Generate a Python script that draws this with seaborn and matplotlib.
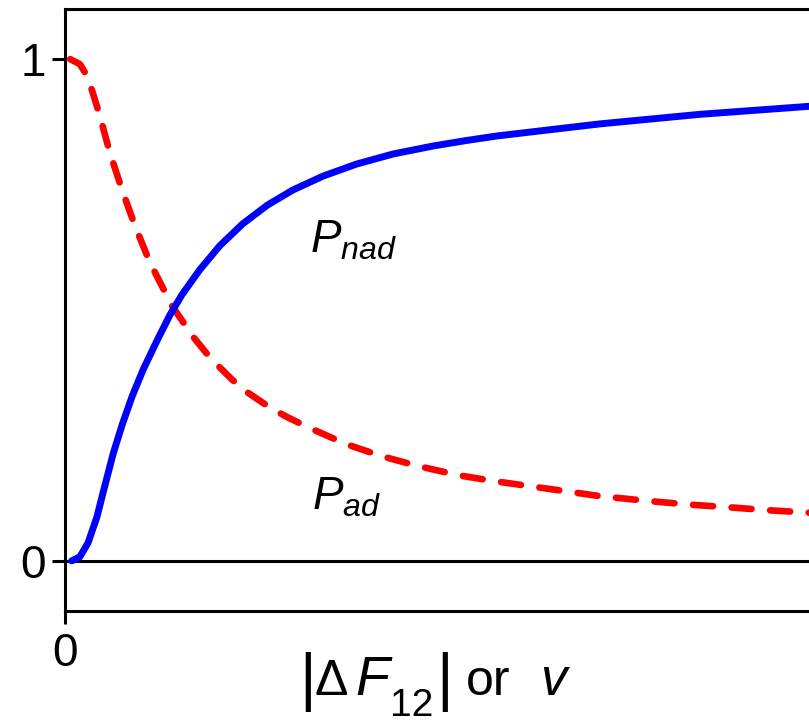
import numpy as np
import pandas as pd
import seaborn as sns
import matplotlib
matplotlib.use("Agg")
import matplotlib.pyplot as plt

# --- data (x in arbitrary units, 0..10) ---
x_ad = [0.07, 0.20, 0.30, 0.38, 0.47, 0.60, 0.77, 0.94, 1.14, 1.44, 1.72, 1.95,
        2.24, 2.45, 2.76, 2.98, 3.27, 3.79, 4.27, 4.77, 5.31, 5.81, 7.19, 7.86,
        8.40, 8.90, 9.44, 10.0]
p_ad = [1.000, 0.990, 0.966, 0.930, 0.886, 0.815, 0.738, 0.668, 0.595, 0.508,
        0.447, 0.405, 0.362, 0.336, 0.305, 0.287, 0.266, 0.232, 0.208, 0.188,
        0.170, 0.158, 0.129, 0.119, 0.112, 0.107, 0.101, 0.096]

x_nad = [0.09, 0.20, 0.31, 0.43, 0.51, 0.65, 0.77, 0.90, 1.05, 1.24, 1.41, 1.57,
         1.81, 2.08, 2.39, 2.72, 3.06, 3.47, 3.92, 4.41, 4.95, 5.40, 5.81, 7.19,
         8.53, 10.0]
p_nad = [0.000, 0.008, 0.036, 0.088, 0.135, 0.215, 0.272, 0.327, 0.381, 0.440,
         0.490, 0.530, 0.580, 0.628, 0.672, 0.709, 0.739, 0.767, 0.791, 0.811,
         0.827, 0.838, 0.847, 0.871, 0.890, 0.906]

y_ticks = [0, 1]
x_ticks = [0]

# x-axis label pieces: (text, italic?, font size)
xlabel_parts = [("|", False, 46), ("Δ", False, 36), ("F", True, 40),
                ("12", False, 28), ("|", False, 46), ("or", False, 36),
                ("v", True, 38)]
# where each piece sits, in reference pixels (left, baseline)
xlabel_pos = [(299, 699), (314, 695), (355, 695), (390, 716), (436, 699),
              (466, 695), (540, 695)]

df_ad = pd.DataFrame({"x": x_ad, "p": p_ad})
df_nad = pd.DataFrame({"x": x_nad, "p": p_nad})

# --- style ---
sns.set_style("white")
plt.rcParams["font.family"] = ["Liberation Sans", "DejaVu Sans"]
plt.rcParams["text.color"] = "black"
plt.rcParams["mathtext.fontset"] = "custom"
plt.rcParams["mathtext.rm"] = "Liberation Sans"
plt.rcParams["mathtext.it"] = "Liberation Sans:italic"
plt.rcParams["mathtext.bf"] = "Liberation Sans:bold"

W, H = 809, 727
fig = plt.figure(figsize=(W / 100, H / 100), dpi=100)
ax = fig.add_axes([65 / W, 116 / H, 744 / W, 602 / H])

ax.axhline(0, color="black", linewidth=2.2, zorder=1)

sns.lineplot(data=df_ad, x="x", y="p", ax=ax, color="red", linewidth=4.8,
             linestyle=(0, (3.0, 2.8)), dash_capstyle="round", zorder=2)
sns.lineplot(data=df_nad, x="x", y="p", ax=ax, color="blue", linewidth=5,
             solid_capstyle="round", solid_joinstyle="round", zorder=3)

ax.text(3.29, 0.615, r"$P_{nad}$", fontsize=33, color="black",
        ha="left", va="baseline")
ax.text(3.32, 0.102, r"$P_{ad}$", fontsize=33, color="black",
        ha="left", va="baseline")

ax.set_xlim(0, 10)
ax.set_ylim(-0.1, 1.1)
ax.set_xticks(x_ticks)
ax.set_xticklabels([str(t) for t in x_ticks])
ax.set_yticks(y_ticks)
ax.set_yticklabels([str(t) for t in y_ticks])
ax.tick_params(direction="out", length=9.4, width=2.2, labelsize=33,
               colors="black", left=True, bottom=True)
ax.tick_params(axis="x", pad=6)
ax.tick_params(axis="y", pad=4.5)

for side in ["left", "top", "bottom"]:
    ax.spines[side].set_linewidth(2.2)
    ax.spines[side].set_color("black")
ax.spines["right"].set_visible(False)

ax.set_xlabel("")
ax.set_ylabel("")

for (txt, italic, size), (px, py) in zip(xlabel_parts, xlabel_pos):
    fig.text(px / W, 1 - py / H, txt, fontsize=size, color="black",
             style="italic" if italic else "normal",
             ha="left", va="baseline")

fig.savefig("out.png", dpi=100)
